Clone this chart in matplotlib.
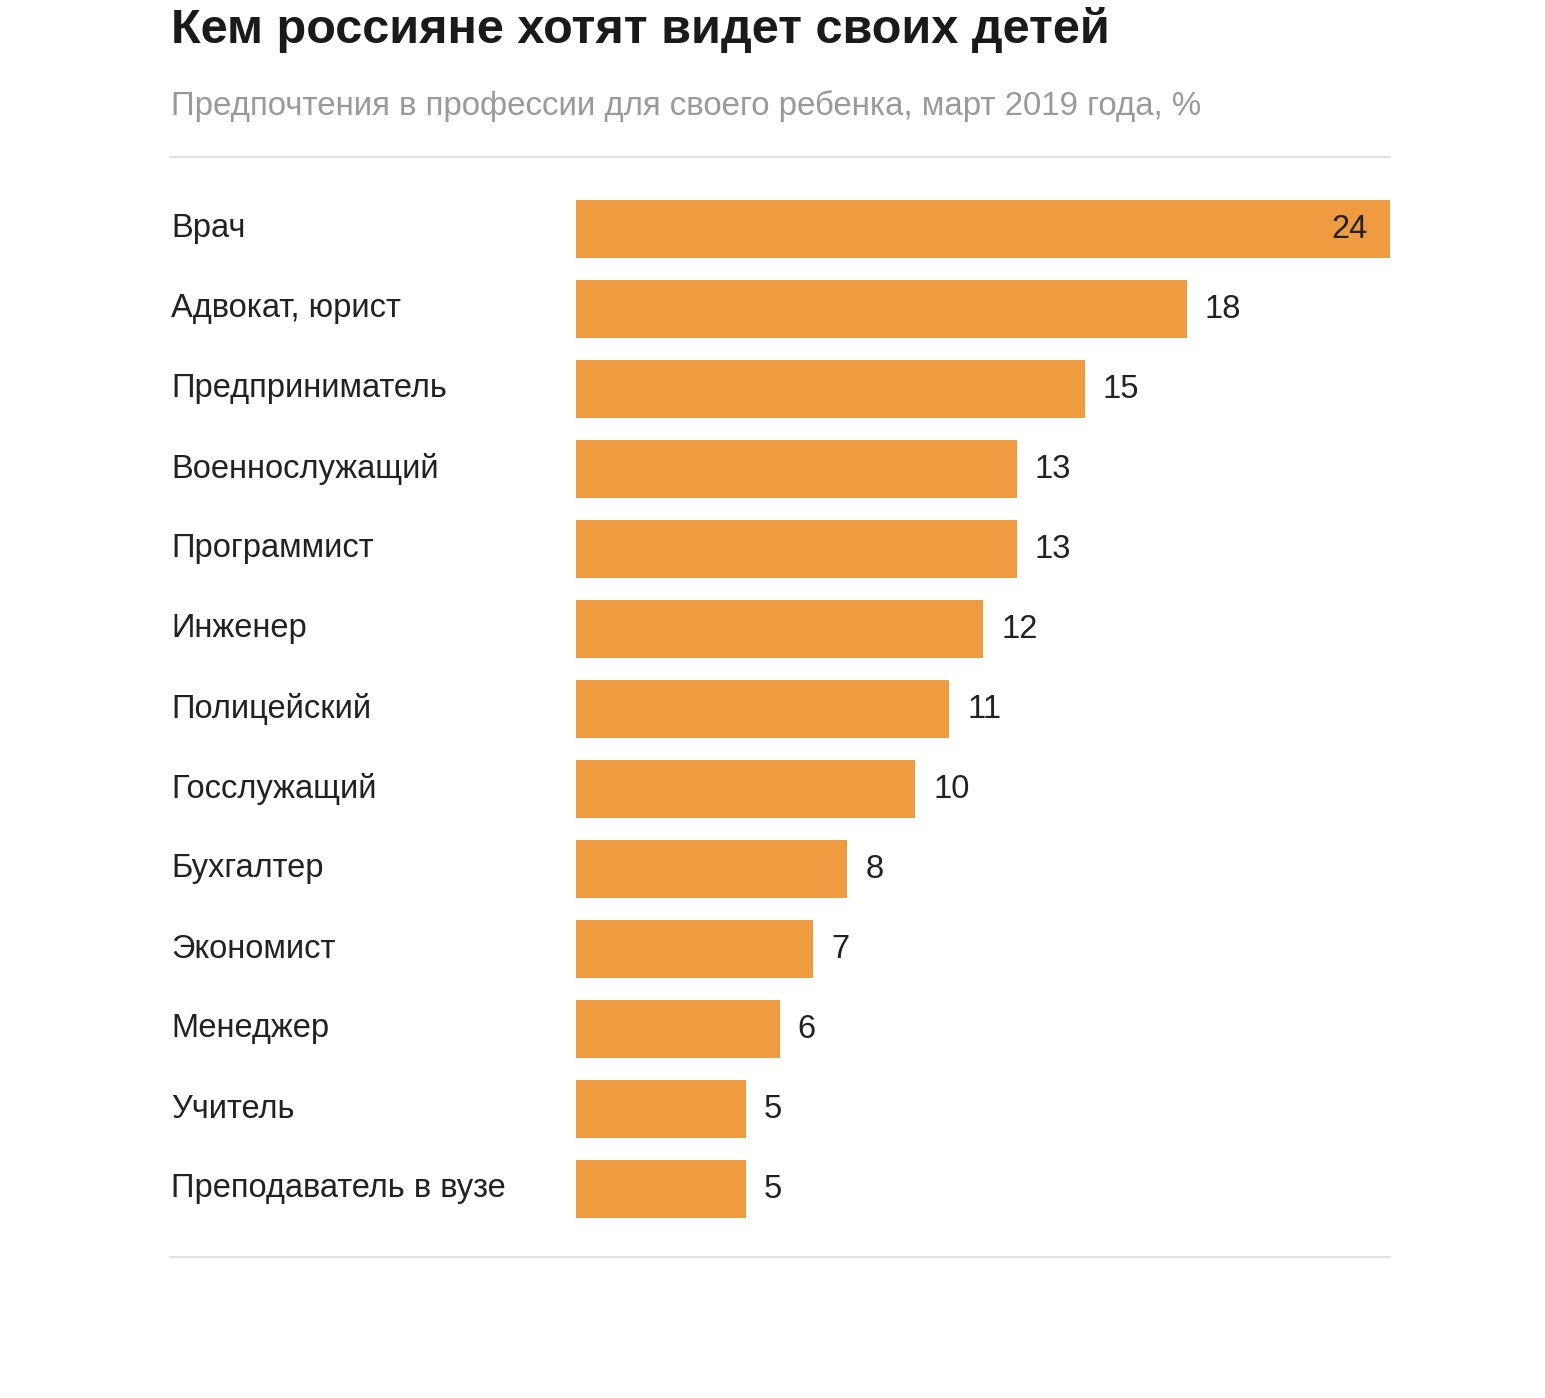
import numpy as np
from matplotlib import pyplot as plt
from matplotlib import transforms

# data
jobs = ['Врач', 'Адвокат, юрист', 'Предприниматель', 'Военнослужащий',
        'Программист', 'Инженер', 'Полицейский', 'Госслужащий', 'Бухгалтер',
        'Экономист', 'Менеджер', 'Учитель', 'Преподаватель в вузе']
shares = [24, 18, 15, 13, 13, 12, 11, 10, 8, 7, 6, 5, 5]

title = 'Кем россияне хотят видет своих детей'
subtitle = 'Предпочтения в профессии для своего ребенка, март 2019 года, %'

plt.rcParams['font.family'] = ['Liberation Sans', 'DejaVu Sans']

W, H = 1545, 1398
fig = plt.figure(figsize=(W / 100, H / 100), dpi=100)
fig.patch.set_facecolor('white')

# axes: bars from x=576 to 1390, rows 80px apart starting at y=229
ax = fig.add_axes([576 / W, 1 - 1229 / H, (1390 - 576) / W, 1040 / H])
ypos = np.arange(len(jobs))
ax.barh(ypos, shares, height=0.725, color='#EF9C40')
ax.set_xlim(0, max(shares))
ax.set_ylim(len(jobs) - 0.5, -0.5)
ax.axis('off')

# value labels
for y, v in zip(ypos, shares):
    if v == max(shares):
        ax.annotate(str(v), (v, y), xytext=(-16, 0), textcoords='offset points',
                    ha='right', va='center', fontsize=23.5, color='#222222')
    else:
        ax.annotate(str(v), (v, y), xytext=(13, 0), textcoords='offset points',
                    ha='left', va='center', fontsize=23.5, color='#222222')

# category labels on the left
tr = transforms.blended_transform_factory(fig.transFigure, ax.transData)
for y, name in zip(ypos, jobs):
    ax.text(171 / W, y, name, transform=tr, ha='left', va='center',
            fontsize=23.5, color='#222222')

fig.text(171 / W, 1 - 30 / H, title, ha='left', va='center',
         fontsize=35, fontweight='bold', color='#1a1a1a')
fig.text(171 / W, 1 - 106 / H, subtitle, ha='left', va='center',
         fontsize=23.8, color='#9a9a9a')

# separator lines
for yy in (157, 1257):
    fig.add_artist(plt.Line2D([170 / W, 1390 / W], [1 - yy / H, 1 - yy / H],
                              color='#e2e2e2', lw=1.5))

plt.savefig('out.png', dpi=100)
